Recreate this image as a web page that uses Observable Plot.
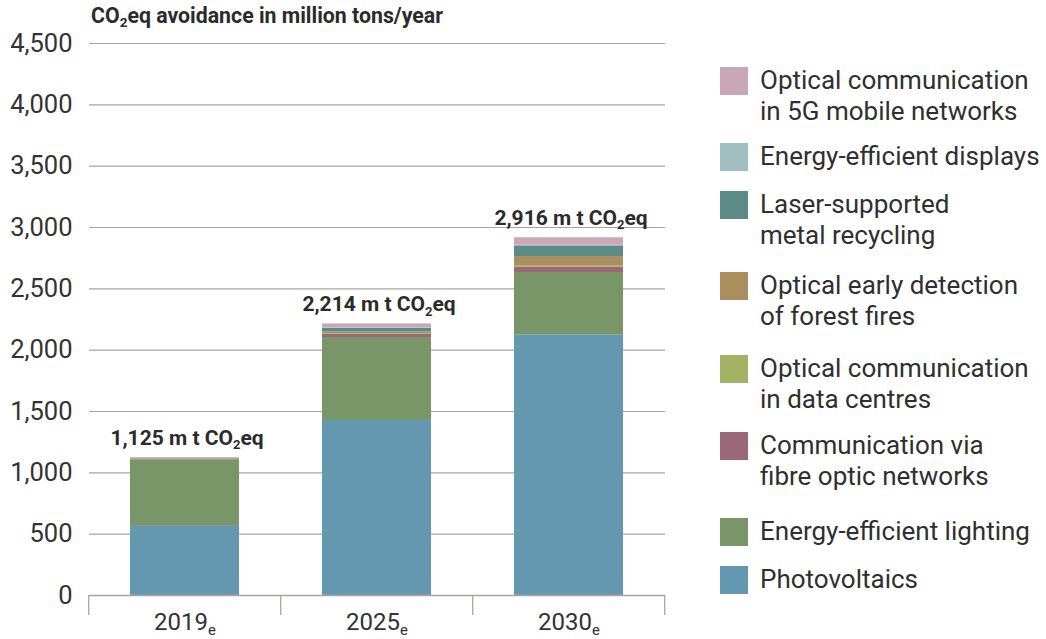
<!DOCTYPE html>
<html>
<head>
<meta charset="utf-8">
<script src="https://cdn.jsdelivr.net/npm/d3@7"></script>
<script src="https://cdn.jsdelivr.net/npm/@observablehq/plot@0.6"></script>
<style>
  html, body { margin: 0; padding: 0; background: #fff; }
  #wrap { position: relative; width: 1046px; height: 639px; font-family: Roboto, "Noto Sans", sans-serif; color: #333; }
  #title { position: absolute; left: 91px; top: 3px; font-size: 21.3px; font-weight: 700; color: #2b2b2b; white-space: nowrap; }
  #title sub { font-size: 13.5px; vertical-align: -4px; line-height: 0; }
  #legend { position: absolute; left: 720px; top: 0; }
  .item { position: absolute; left: 0; display: flex; align-items: flex-start; white-space: nowrap; }
  .sw { width: 28px; height: 28px; flex: none; margin-right: 12px; }
  .lab { font-size: 26px; line-height: 31px; color: #2f2f2f; margin-top: -2px; }
</style>
</head>
<body>
<div id="wrap">
  <div id="title">CO<sub>2</sub>eq avoidance in million tons/year</div>
  <div id="legend"></div>
</div>
<script>
// ---- data ----
const years = ["2019", "2025", "2030"];
const seriesNames = [
  "Photovoltaics",
  "Energy-efficient lighting",
  "Communication via fibre optic networks",
  "Optical communication in data centres",
  "Optical early detection of forest fires",
  "Laser-supported metal recycling",
  "Energy-efficient displays",
  "Optical communication in 5G mobile networks"
];
const legendLabels = [
  "Photovoltaics",
  "Energy-efficient lighting",
  "Communication via\nfibre optic networks",
  "Optical communication\nin data centres",
  "Optical early detection\nof forest fires",
  "Laser-supported\nmetal recycling",
  "Energy-efficient displays",
  "Optical communication\nin 5G mobile networks"
];
const seriesColors = ["#6497b0", "#789668", "#9a6878", "#a3b263", "#ab8e5e", "#5b8a87", "#a2bfbf", "#c9a7b4"];
const values2019 = [570, 536, 7, 2, 2, 3, 1, 4];
const values2025 = [1427, 676, 25, 6, 14, 30, 3, 33];
const values2030 = [2125, 508, 43, 8, 79, 87, 5, 61];
const yTicks = [0, 500, 1000, 1500, 2000, 2500, 3000, 3500, 4000, 4500];

// ---- build tables ----
const valuesByYear = [values2019, values2025, values2030];
const rows = [];
years.forEach((yr, i) => seriesNames.forEach((s, j) => rows.push({year: yr, series: s, value: valuesByYear[i][j]})));
const totals = years.map((yr, i) => ({year: yr, total: d3.sum(valuesByYear[i])}));

const padIn = 0.43, padOut = padIn / 2;

// band-boundary tick marks below the axis
const boundaryTicks = (index, scales, values, dims) => {
  const x = scales.x;
  const step = x(years[1]) - x(years[0]);
  const g = d3.create("svg:g").attr("stroke", "#aaa4a0").attr("stroke-width", 1.3);
  const y0 = dims.height - dims.marginBottom;
  const xs = years.map(yr => x(yr) - padOut * step);
  xs.push(x(years[years.length - 1]) - padOut * step + step);
  xs.forEach(px => g.append("line").attr("x1", px).attr("x2", px).attr("y1", y0).attr("y2", y0 + 20));
  return g.node();
};

const chart = Plot.plot({
  width: 1046,
  height: 639,
  marginTop: 43,
  marginBottom: 44,
  marginLeft: 89,
  marginRight: 381,
  style: {fontFamily: "Roboto, 'Noto Sans', sans-serif", color: "#333", background: "transparent"},
  x: {domain: years, paddingInner: padIn, paddingOuter: padOut, align: 0.5},
  y: {domain: [0, 4500]},
  color: {domain: seriesNames, range: seriesColors},
  marks: [
    Plot.ruleY(yTicks.filter(d => d > 0), {stroke: "#aaa4a0", strokeWidth: 1.2}),
    Plot.barY(rows, {x: "year", y: "value", fill: "series", order: seriesNames}),
    Plot.ruleY([0], {stroke: "#aaa4a0", strokeWidth: 1.3}),
    boundaryTicks,
    Plot.axisY({ticks: yTicks, tickSize: 0, tickPadding: 17, tickFormat: d3.format(","), fontSize: 25.5, fill: "#333", label: null}),
    Plot.axisX({tickSize: 0, tickPadding: 17, tickFormat: d => d + "_e", fontSize: 24, fill: "#333", label: null}),
    Plot.text(totals, {x: "year", y: "total", text: d => d3.format(",")(d.total) + " m t CO_2eq", dy: -13, dx: 2, lineAnchor: "bottom", fontSize: 21, fontWeight: 700, fill: "#2b2b2b", letterSpacing: "-0.2px"})
  ]
});
chart.style.position = "absolute";
chart.style.left = "0";
chart.style.top = "0";
document.getElementById("wrap").prepend(chart);

// subscripts: "_x" -> subscript x
chart.querySelectorAll("text").forEach(t => {
  if (t.children.length || !t.textContent.includes("_")) return;
  const fs = parseFloat(getComputedStyle(t).fontSize) || 18;
  const parts = t.textContent.split(/_(.)/);
  t.textContent = "";
  const NS = "http://www.w3.org/2000/svg";
  let shifted = false;
  parts.forEach((p, k) => {
    if (p === "") return;
    const ts = document.createElementNS(NS, "tspan");
    ts.textContent = p;
    if (k % 2 === 1) {
      ts.setAttribute("font-size", (fs * 0.62).toFixed(1));
      ts.setAttribute("dy", (fs * 0.22).toFixed(1));
      shifted = true;
    } else if (shifted) {
      ts.setAttribute("dy", (-fs * 0.22).toFixed(1));
      shifted = false;
    }
    t.appendChild(ts);
  });
});

// legend (top entry = top of stack)
const legendTops = [566, 518, 432, 355, 272, 191, 143, 67];
const legend = document.getElementById("legend");
seriesNames.forEach((s, j) => {
  const it = document.createElement("div");
  it.className = "item";
  it.style.top = legendTops[j] + "px";
  const sw = document.createElement("div");
  sw.className = "sw";
  sw.style.background = seriesColors[j];
  const lab = document.createElement("div");
  lab.className = "lab";
  lab.innerHTML = legendLabels[j].replace("\n", "<br>");
  it.appendChild(sw);
  it.appendChild(lab);
  legend.appendChild(it);
});
</script>
</body>
</html>
